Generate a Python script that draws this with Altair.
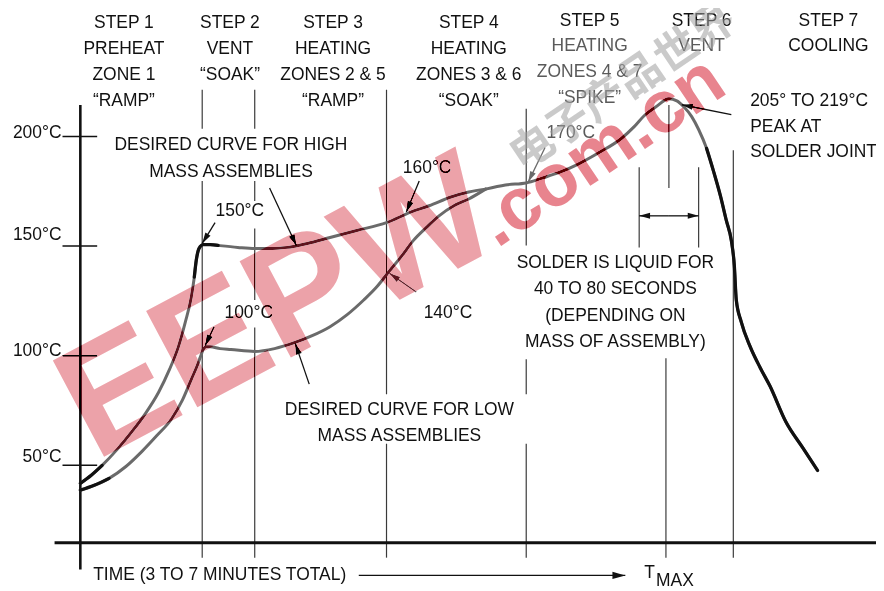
import math
import altair as alt
import pandas as pd

# ---------------- frame: time (arbitrary units, origin at the y axis) / temperature (°C)
X_DOMAIN = [-73, 803]
Y_DOMAIN = [-6.2, 257.44]
W, H = 876, 583
PX_T = W / (X_DOMAIN[1] - X_DOMAIN[0])
PX_DEG = H / (Y_DOMAIN[1] - Y_DOMAIN[0])

FONT = "Liberation Sans, Arial, sans-serif"
FS = 17.6
GRAY = "#6a6a6a"
INK = "#111111"

# ---------------- curves
high_t = [0, 11, 22, 37, 52, 66, 79, 90, 99, 106, 112, 115, 117, 119, 121, 124, 131, 139, 159, 176,
          194, 209, 229, 252, 279, 309, 334, 352, 374, 392, 409]
high_T = [41.7, 45.4, 49.9, 57.1, 65.3, 73.8, 83.3, 93.7, 104.1, 115.4, 126.8, 135.8, 143.5, 148.0,
          149.8, 150.7, 150.7, 150.3, 149.4, 148.9, 148.9, 149.4, 151.2, 153.9, 157.1, 160.7, 165.6,
          168.4, 172.4, 174.7, 176.0]
low_t = [0, 14, 29, 46, 62, 77, 92, 103, 112, 118, 121, 124, 127, 131, 141, 152, 176, 196, 216, 234,
         252, 269, 286, 299, 311, 324, 336, 349, 362, 377, 392, 409]
low_T = [38.6, 40.8, 44.0, 49.4, 56.2, 63.4, 71.1, 79.7, 89.2, 95.5, 99.2, 102.8, 104.1, 104.1, 103.2,
         102.8, 101.9, 103.2, 105.9, 109.1, 113.2, 118.6, 125.4, 131.3, 138.1, 145.3, 152.5, 158.4,
         163.8, 168.4, 171.5, 176.0]
common_t = [409, 429, 450, 466, 484, 502, 524, 546, 559, 569, 581, 594, 602, 609, 617, 624, 632, 639,
            646, 652, 657, 660, 662, 667, 676, 686, 696, 712, 729, 744]
common_T = [176.0, 177.9, 178.8, 181.0, 183.7, 187.3, 192.8, 199.1, 204.5, 209.5, 213.6, 217.2, 216.3,
            213.6, 209.1, 203.2, 194.6, 184.2, 172.9, 161.6, 152.5, 141.2, 125.4, 115.4, 104.1, 94.6,
            86.1, 69.8, 58.0, 47.6]

# ---------------- axis ticks
tick_temps = [50, 100, 150, 200]
tick_labels = ["50°C", "100°C", "150°C", "200°C"]
tick_label_T = [53.9, 101.9, 155.2, 201.4]

# ---------------- step boundary lines: (time, top °C, bottom °C)
rule_segments = [
    (123, 221.3, 203.6), (123, 179.7, 7.8),
    (176, 221.3, 203.6), (176, 179.7, 170.6), (176, 158.0, 125.4), (176, 112.8, 7.8),
    (309, 221.3, 82.4), (309, 59.8, 7.8),
    (450, 212.7, 150.3), (450, 98.4, 82.4), (450, 59.8, 7.8),
    (564, 186.0, 149.4), (624, 186.0, 149.4),
    (594, 214.4, 176.5), (591, 98.8, 7.8),
    (659, 193.7, 7.8),
]

# ---------------- headers
step_t = [44, 151, 255, 392, 514, 627, 755]
step_lines = [
    ["STEP 1", "PREHEAT", "ZONE 1", "“RAMP”"],
    ["STEP 2", "VENT", "“SOAK”"],
    ["STEP 3", "HEATING", "ZONES 2 & 5", "“RAMP”"],
    ["STEP 4", "HEATING", "ZONES 3 & 6", "“SOAK”"],
    ["STEP 5", "HEATING", "ZONES 4 & 7", "“SPIKE”"],
    ["STEP 6", "VENT"],
    ["STEP 7", "COOLING"],
]
row_T_left = [251.6, 239.8, 228.0, 216.2]
row_T_right = [252.9, 241.2, 229.4, 217.6]
faded = {(4, 1), (4, 2), (4, 3), (5, 1)}

# ---------------- annotations
center_notes = [
    ("DESIRED CURVE FOR HIGH", 152, 195.9), ("MASS ASSEMBLIES", 152, 183.7),
    ("150°C", 161, 166.2), ("100°C", 170, 119.5), ("160°C", 350, 185.5),
    ("170°C", 495, 201.4), ("140°C", 371, 119.5),
    ("DESIRED CURVE FOR LOW", 322, 75.2), ("MASS ASSEMBLIES", 322, 63.5),
    ("SOLDER IS LIQUID FOR", 540, 142.1), ("40 TO 80 SECONDS", 540, 130.4),
    ("(DEPENDING ON", 540, 118.2), ("MASS OF ASSEMBLY)", 540, 106.4),
]
left_notes = [
    ("205° TO 219°C", 676, 216.2), ("PEAK AT", 676, 204.5), ("SOLDER JOINT", 676, 192.8),
    ("TIME (3 TO 7 MINUTES TOTAL)", 13, -0.3), ("T", 569, 0.6), ("MAX", 581, -3.0),
]
# arrows: tail (t, °C) -> head (t, °C)
arrows = [
    (136, 160.7, 123, 151.2, INK, 121),
    (135, 113.2, 126, 104.6, INK, 121),
    (191, 176.5, 218, 150.3, INK, 121),
    (342, 179.7, 329, 165.6, INK, 121),
    (469, 195.0, 452, 179.2, GRAY, 121),
    (339, 129.0, 312, 137.6, GRAY, 121),
    (231, 87.0, 217, 105.5, INK, 121),
    (657, 210.0, 607, 214.5, INK, 121),
    (281, -0.3, 550, -0.3, INK, 169),
    (594, 163.8, 564, 163.8, INK, 121),
    (594, 163.8, 624, 163.8, INK, 121),
]

xs = alt.Scale(domain=X_DOMAIN, nice=False, zero=False)
ys = alt.Scale(domain=Y_DOMAIN, nice=False, zero=False)


def X(f):
    return alt.X(f"{f}:Q", scale=xs, axis=None)


def Y(f):
    return alt.Y(f"{f}:Q", scale=ys, axis=None)


# ---- curve table
rows = []
for name, ts, Ts in [("high", high_t, high_T), ("low", low_t, low_T), ("common", common_t, common_T)]:
    for i, (a, b) in enumerate(zip(ts, Ts)):
        rows.append(dict(t=a, T=b, series=name, i=i))
curves = pd.DataFrame(rows)

brows = []
for name, ts, Ts, sl in [("high_a", high_t, high_T, slice(0, 3)), ("high_b", high_t, high_T, slice(11, 18)),
                         ("low_a", low_t, low_T, slice(0, 3)), ("cool", common_t, common_T, slice(16, None))]:
    for i, (a, b) in enumerate(zip(ts[sl], Ts[sl])):
        brows.append(dict(t=a, T=b, series=name, i=i))
black = pd.DataFrame(brows)

curve_layer = alt.Chart(curves).mark_line(interpolate="monotone", strokeWidth=3, color=GRAY,
                                          strokeCap="round").encode(
    x=X("t"), y=Y("T"), detail="series:N", order="i:Q")
black_layer = alt.Chart(black).mark_line(interpolate="monotone", strokeWidth=3.3, color=INK,
                                         strokeCap="round").encode(
    x=X("t"), y=Y("T"), detail="series:N", order="i:Q")

# ---- rules
vr = pd.DataFrame(rule_segments, columns=["t", "T1", "T2"])
vrule = alt.Chart(vr).mark_rule(color="#3a3a3a", strokeWidth=1.2).encode(x=X("t"), y=Y("T1"), y2="T2")

xaxis = alt.Chart(pd.DataFrame({"t1": [-26], "t2": [803], "T": [14.6]})).mark_rule(
    color=INK, strokeWidth=2.8).encode(x=X("t1"), x2="t2", y=Y("T"))
yaxis = alt.Chart(pd.DataFrame({"t": [0], "T1": [2.4], "T2": [214.4]})).mark_rule(
    color=INK, strokeWidth=2.6).encode(x=X("t"), y=Y("T1"), y2="T2")
ticks = alt.Chart(pd.DataFrame({"t1": [-18] * 4, "t2": [17] * 4, "T": tick_temps})).mark_rule(
    color=INK, strokeWidth=1.5).encode(x=X("t1"), x2="t2", y=Y("T"))

# ---- arrows
shaft_df = pd.DataFrame([dict(t1=a[0], T1=a[1], t2=a[2], T2=a[3], color=a[4]) for a in arrows])
shafts = alt.Chart(shaft_df).mark_rule(strokeWidth=1.3).encode(
    x=X("t1"), y=Y("T1"), x2="t2", y2="T2", color=alt.Color("color:N", scale=None))

heads = []
for t1, T1, t2, T2, col, sz in arrows:
    dx = (t2 - t1) * PX_T
    dy = -(T2 - T1) * PX_DEG
    n = math.hypot(dx, dy)
    ux, uy = dx / n, dy / n
    half = math.sqrt(sz) / 2
    heads.append(dict(ct=t2 - half * ux / PX_T, cT=T2 + half * uy / PX_DEG,
                      ang=math.degrees(math.atan2(ux, -uy)) % 360, color=col, sz=sz))
head_df = pd.DataFrame(heads)
ARROW = "M0,-1L-0.55,1L0.55,1Z"
head_layer = alt.Chart(head_df).mark_point(shape=ARROW, filled=True, strokeWidth=0, opacity=1).encode(
    x=X("ct"), y=Y("cT"), angle=alt.Angle("ang:Q", scale=None),
    color=alt.Color("color:N", scale=None), size=alt.Size("sz:Q", scale=None))

# ---- texts
trows = []
for k, (tt, lines) in enumerate(zip(step_t, step_lines)):
    rT = row_T_left if k < 4 else row_T_right
    for j, s in enumerate(lines):
        col = "#5a5a5a" if (k, j) in faded else INK
        trows.append(dict(t=tt, T=rT[j], text=s, color=col))
for s, tt, TT in center_notes:
    col = "#5a5a5a" if s == "170°C" else INK
    trows.append(dict(t=tt, T=TT, text=s, color=col))
center_text = alt.Chart(pd.DataFrame(trows)).mark_text(
    font=FONT, fontSize=FS, align="center", baseline="middle").encode(
    x=X("t"), y=Y("T"), text="text:N", color=alt.Color("color:N", scale=None))

right_text = alt.Chart(pd.DataFrame({"t": [-19] * 4, "T": tick_label_T, "text": tick_labels})).mark_text(
    font=FONT, fontSize=FS, align="right", baseline="middle", color=INK).encode(
    x=X("t"), y=Y("T"), text="text:N")

left_text = alt.Chart(pd.DataFrame(left_notes, columns=["text", "t", "T"])).mark_text(
    font=FONT, fontSize=FS, align="left", baseline="middle", color=INK).encode(
    x=X("t"), y=Y("T"), text="text:N")

# ---- watermarks
wm = [
    ("EEPW", 200, 120.7, 160, 332, "#eca2a9"),
    (".com.cn", 525, 193.2, 75, 326, "#e8848e"),
]
wm_layers = []
for blend in ["color-burn", "darken"]:
    for text, tt, TT, size, ang, col in wm:
        wm_layers.append(
            alt.Chart(pd.DataFrame({"t": [tt], "T": [TT], "text": [text]})).mark_text(
                font="Liberation Sans", fontWeight="bold", fontSize=size, angle=ang, color=col,
                align="center", baseline="middle", blend=blend).encode(
                x=X("t"), y=Y("T"), text="text:N"))
cn_wm = alt.Chart(pd.DataFrame({"t": [548], "T": [222.0], "text": ["电子产品世界"]})).mark_text(
    font="Noto Sans CJK SC", fontWeight="bold", fontSize=44, angle=326, color="#a0a0a0", opacity=0.55,
    align="center", baseline="middle").encode(x=X("t"), y=Y("T"), text="text:N")

chart = alt.layer(
    vrule, xaxis, yaxis, ticks, curve_layer, black_layer, shafts, head_layer,
    center_text, right_text, left_text, *wm_layers, cn_wm
).properties(
    width=W, height=H, padding=0, autosize=alt.AutoSizeParams(type="none")
).configure_view(stroke=None)

chart.save("out.html", embed_options={"renderer": "svg", "actions": False})
